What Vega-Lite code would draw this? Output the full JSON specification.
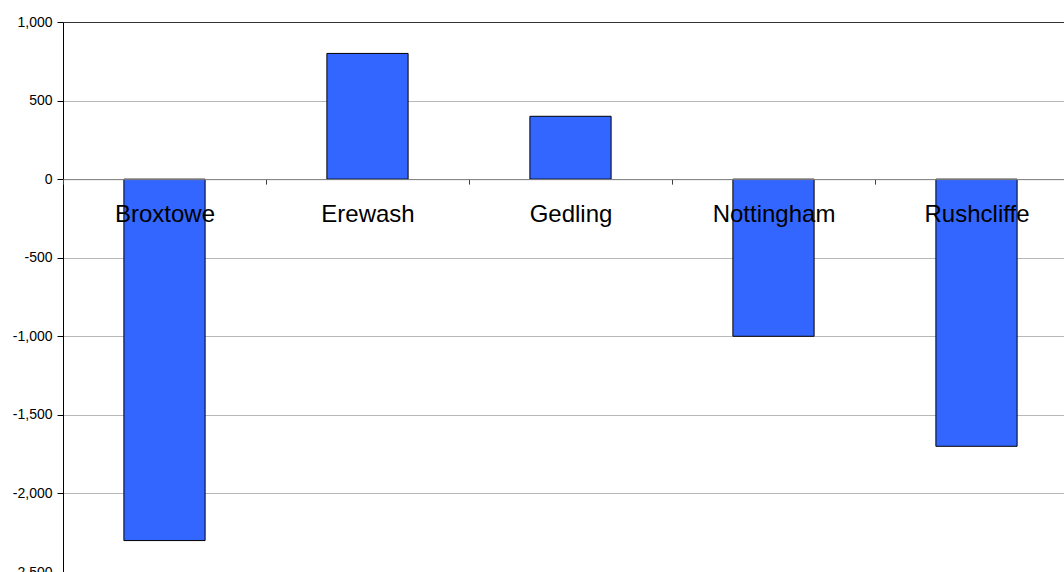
{
  "$schema": "https://vega.github.io/schema/vega-lite/v6.json",
  "width": 1015,
  "height": 550,
  "autosize": {"type": "none"},
  "padding": {"left": 63, "top": 22, "right": 0, "bottom": 0},
  "background": "white",
  "config": {
    "view": {"stroke": null},
    "font": "Liberation Sans"
  },
  "data": {
    "values": [
      {"district": "Broxtowe", "value": -2300},
      {"district": "Erewash", "value": 800},
      {"district": "Gedling", "value": 400},
      {"district": "Nottingham", "value": -1000},
      {"district": "Rushcliffe", "value": -1700}
    ]
  },
  "mark": {"type": "bar", "color": "#3366FF", "stroke": "#000000", "strokeWidth": 1, "width": {"band": 0.4}},
  "encoding": {
    "x": {
      "field": "district",
      "type": "nominal",
      "sort": null,
      "scale": {"paddingInner": 0, "paddingOuter": 0},
      "axis": {
        "title": null,
        "labelAngle": 0,
        "labelFont": "Liberation Sans",
        "labelFontSize": 24,
        "labelColor": "#000000",
        "labelPadding": 18,
        "tickBand": "extent",
        "tickSize": 5,
        "tickColor": "#404040",
        "domainColor": "#808080",
        "offset": -392.86,
        "zindex": 1,
        "grid": false
      }
    },
    "y": {
      "field": "value",
      "type": "quantitative",
      "scale": {"domain": [-2500, 1000], "nice": false, "zero": false},
      "axis": {
        "title": null,
        "values": [-2500, -2000, -1500, -1000, -500, 0, 500, 1000],
        "labelExpr": "datum.value < 0 ? '-' + format(-datum.value, ',') : format(datum.value, ',')",
        "labelFont": "Liberation Sans",
        "labelFontSize": 14,
        "labelColor": "#000000",
        "labelPadding": 5,
        "tickSize": 6,
        "tickColor": "#000000",
        "domainColor": "#000000",
        "grid": true,
        "gridColor": {"condition": {"test": "datum.value === 1000", "value": "#333333"}, "value": "#707070"},
        "gridDash": {"condition": {"test": "datum.value === 1000", "value": []}, "value": [1, 1]},
        "gridWidth": 1
      }
    }
  }
}
